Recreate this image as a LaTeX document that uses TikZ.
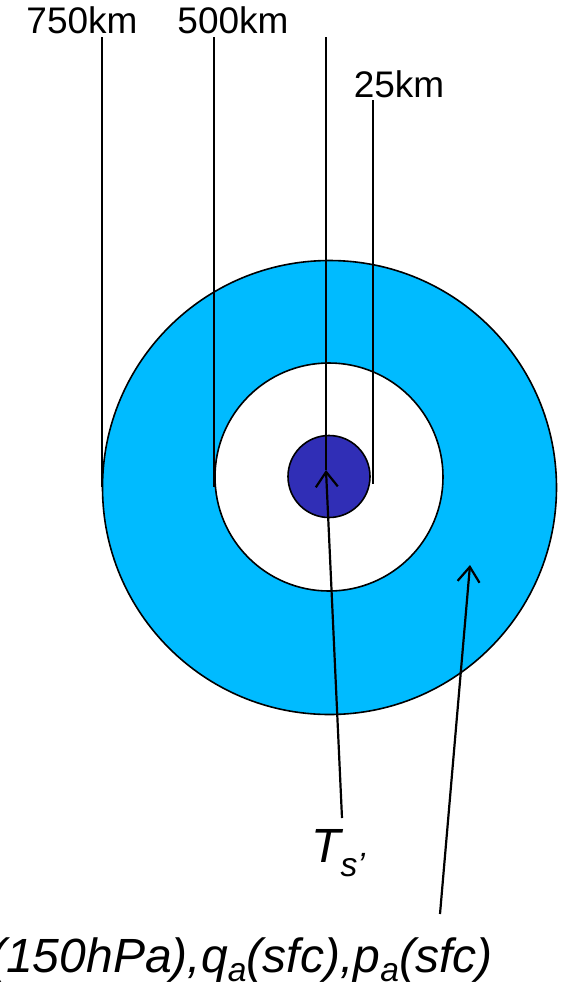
\documentclass[tikz,border=0pt]{standalone}
\usepackage{fontspec}
\setmainfont{Liberation Sans}
\usetikzlibrary{arrows.meta}
\definecolor{skyc}{RGB}{0,187,255}
\definecolor{corec}{RGB}{48,46,182}
\tikzset{
  ring/.style={circle, draw=black, line width=1.6pt, inner sep=0pt},
  guide/.style={line width=1.8pt},
  pointer/.style={line width=2.2pt, -{Straight Barb[length=15pt,width=22pt,line width=2.2pt]}},
  kmlabel/.style={font=\fontsize{37}{42}\selectfont, inner sep=0pt, anchor=base},
  varlabel/.style={font=\fontsize{48}{54}\selectfont\itshape, inner sep=0pt},
}
\begin{document}
\begin{tikzpicture}[x=1pt,y=-1pt]
\useasboundingbox (0,0) rectangle (562,989);
% circles
\node[ring, fill=skyc, minimum size=454pt] (outer) at (329.5,487.5) {};
\node[ring, fill=white, minimum size=228pt] (inner) at (329,477) {};
\node[ring, fill=corec, minimum size=82pt] (core) at (329,476.5) {};
% labels
\node[kmlabel] (l750) at (82,33) {750km};
\node[kmlabel] (l500) at (233,33) {500km};
\node[kmlabel] (l25) at (399,97) {25km};
\node[varlabel, anchor=base west] (ts) at (311,862) {T\textsubscript{s’}};
\node[varlabel, anchor=base east] (vars) at (493,972) {(150hPa),q\textsubscript{a}(sfc),p\textsubscript{a}(sfc)};
% guide line coordinates
\coordinate (g750t) at (102,37);
\coordinate (g750b) at (102,487);
\coordinate (g500t) at (214,37);
\coordinate (g500b) at (214,487);
\coordinate (gct) at (326,37);
\coordinate (gcb) at (326,470);
\coordinate (g25t) at (373,100);
\coordinate (g25b) at (373,484);
\draw[guide] (g750t) -- (g750b);
\draw[guide] (g500t) -- (g500b);
\draw[guide] (gct) -- (gcb);
\draw[guide] (g25t) -- (g25b);
% pointers
\coordinate (tsfoot) at (342,818);
\coordinate (varsfoot) at (440,914);
\coordinate (ringpt) at (470,565);
\draw[pointer] (tsfoot) -- (gcb);
\draw[pointer] (varsfoot) -- (ringpt);
\end{tikzpicture}
\end{document}
